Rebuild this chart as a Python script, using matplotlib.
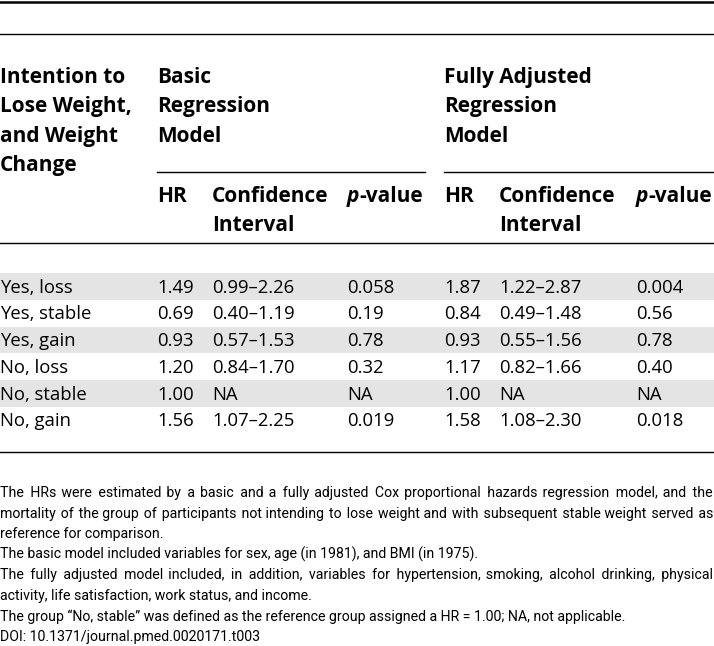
import matplotlib
matplotlib.use("Agg")
import matplotlib.pyplot as plt

# table content
groups = ["Yes, loss", "Yes, stable", "Yes, gain", "No, loss", "No, stable", "No, gain"]
basic_hr = ["1.49", "0.69", "0.93", "1.20", "1.00", "1.56"]
basic_ci = ["0.99\u20132.26", "0.40\u20131.19", "0.57\u20131.53", "0.84\u20131.70", "NA", "1.07\u20132.25"]
basic_p = ["0.058", "0.19", "0.78", "0.32", "NA", "0.019"]
full_hr = ["1.87", "0.84", "0.93", "1.17", "1.00", "1.58"]
full_ci = ["1.22\u20132.87", "0.49\u20131.48", "0.55\u20131.56", "0.82\u20131.66", "NA", "1.08\u20132.30"]
full_p = ["0.004", "0.56", "0.78", "0.40", "NA", "0.018"]

first_header = ["Intention to", "Lose Weight,", "and Weight", "Change"]
basic_header = ["Basic", "Regression", "Model"]
full_header = ["Fully Adjusted", "Regression", "Model"]

footnotes = [
    ("The HRs were estimated by a basic and a fully adjusted Cox proportional hazards regression model, and the", True),
    ("mortality of the group of participants not intending to lose weight and with subsequent stable weight served as", True),
    ("reference for comparison.", False),
    ("The basic model included variables for sex, age (in 1981), and BMI (in 1975).", False),
    ("The fully adjusted model included, in addition, variables for hypertension, smoking, alcohol drinking, physical", True),
    ("activity, life satisfaction, work status, and income.", False),
    ("The group \u201cNo, stable\u201d was defined as the reference group assigned a HR = 1.00; NA, not applicable.", False),
    ("DOI: 10.1371/journal.pmed.0020171.t003", False),
]

W, H = 714, 646
FONT = "Open Sans"
NOTE_FONT = ["Roboto", "DejaVu Sans"]
HAIR = "\u200a"

fig = plt.figure(figsize=(W / 100, H / 100), dpi=100)
ax = fig.add_axes([0, 0, 1, 1])
ax.set_xlim(0, W)
ax.set_ylim(H, 0)
ax.axis("off")
renderer = fig.canvas.get_renderer()


def text_width(s, **kw):
    t = ax.text(0, 0, s, **kw)
    w = t.get_window_extent(renderer).width
    t.remove()
    return w


# rules
ax.plot([0, W], [1.5, 1.5], color="black", lw=1.8)
ax.plot([0, W], [34, 34], color="black", lw=1.0)
ax.plot([157, 425], [172, 172], color="black", lw=1.0)
ax.plot([444, W], [172, 172], color="black", lw=1.0)
ax.plot([0, W], [243, 243], color="black", lw=1.0)
ax.plot([0, W], [452, 452], color="black", lw=1.0)

# header
hdr = dict(fontsize=15, fontweight="bold", family=FONT, va="baseline", ha="left")
line_y = [83, 112, 142, 171]
for i, t in enumerate(first_header):
    ax.text(0, line_y[i], t, **hdr)
for i, t in enumerate(basic_header):
    ax.text(157, line_y[i], t, **hdr)
for i, t in enumerate(full_header):
    ax.text(444, line_y[i], t, **hdr)

col_x = [157, 212, 347, 444, 499, 636]
for x0 in (0, 3):
    ax.text(col_x[x0], 202, "HR", **hdr)
    ax.text(col_x[x0 + 1], 202, "Confidence", **hdr)
    ax.text(col_x[x0 + 1], 231, "Interval", **hdr)
    pw = text_width("p", style="italic", **hdr)
    ax.text(col_x[x0 + 2], 202, "p", style="italic", **hdr)
    ax.text(col_x[x0 + 2] + pw, 202, "-value", **hdr)

# body rows
row_h = 26.75
top = 273
body = dict(fontsize=13.3, family=FONT, va="baseline", ha="left")
cols = [basic_hr, basic_ci, basic_p, full_hr, full_ci, full_p]
for i, g in enumerate(groups):
    y0 = top + i * row_h
    if i % 2 == 0:
        ax.add_patch(plt.Rectangle((0, y0), W, row_h, color="#e4e4e4", lw=0))
    yb = round(292.7 + i * row_h)
    ax.text(0, yb, g, **body)
    for x, col in zip(col_x, cols):
        ax.text(x, yb, col[i], **body)

# footnotes: size fitted so the short 4th line is as wide as in the original
note_size = 10 * 479 / text_width(footnotes[3][0], fontsize=10, family=NOTE_FONT)
note = dict(fontsize=note_size, family=NOTE_FONT, va="baseline", ha="left")
hair_w = text_width("a" + HAIR * 10 + "a", **note) - text_width("aa", **note)
hair_w /= 10

for k, (line, justify) in enumerate(footnotes):
    y = round(497 + k * 20.6)
    if justify:
        words = line.split(" ")
        n_gaps = len(words) - 1
        extra = W - 1 - text_width(line, **note)
        total = max(0, round(extra / hair_w))
        out = words[0]
        done = 0
        for g, w in enumerate(words[1:], start=1):
            want = round(total * g / n_gaps)
            out += " " + HAIR * (want - done) + w
            done = want
        line = out
    ax.text(0, y, line, **note)

fig.savefig("out.png", dpi=100, facecolor="white")
